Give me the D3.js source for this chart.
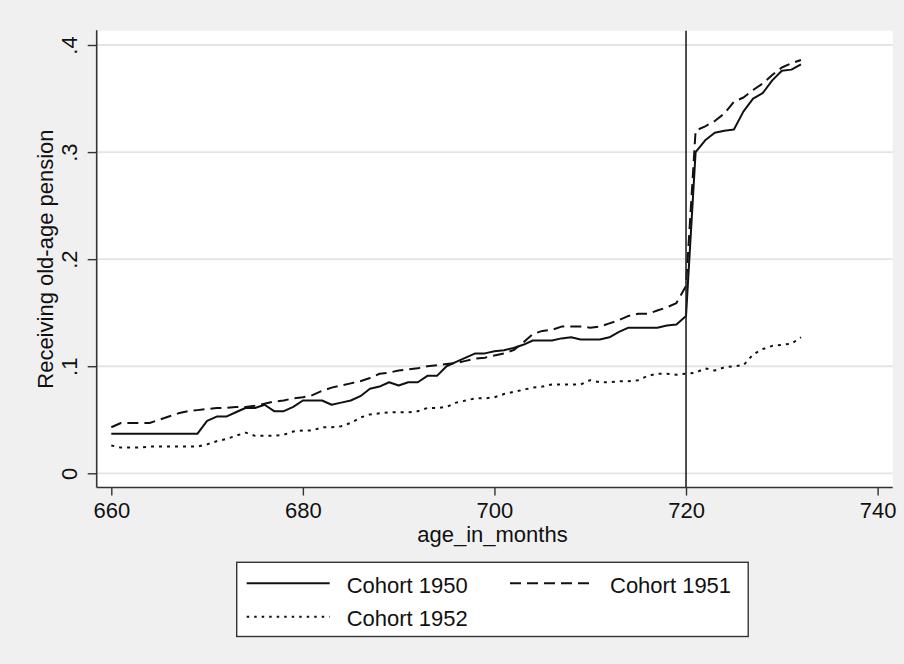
<!DOCTYPE html>
<html>
<head>
<meta charset="utf-8">
<script src="https://cdn.jsdelivr.net/npm/d3@7"></script>
<style>
  html, body { margin: 0; padding: 0; background: #f0f0f0; }
  svg { display: block; }
  text { font-family: "Liberation Sans", Arial, Helvetica, sans-serif; fill: #111; }
</style>
</head>
<body>
<svg id="chart" width="904" height="664"></svg>
<script>
// ---- data ----
const months = d3.range(660, 733);
const cohort1950 = [
  .037,.037,.037,.037,.037,.037,.037,.037,.037,.037,
  .049,.053,.053,.057,.061,.061,.064,.058,.058,.062,
  .068,.068,.068,.064,.066,.068,.072,.079,.081,.085,
  .082,.085,.085,.091,.091,.100,.104,.108,.112,.112,
  .114,.115,.117,.120,.124,.124,.124,.126,.127,.125,
  .125,.125,.127,.132,.136,.136,.136,.136,.138,.139,
  .147,.300,.311,.318,.320,.321,.338,.350,.355,.367,
  .376,.377,.382
];
const cohort1951 = [
  .043,.047,.047,.047,.047,.050,.053,.056,.058,.059,
  .060,.061,.061,.062,.062,.063,.065,.067,.068,.070,
  .071,.073,.077,.080,.082,.084,.086,.089,.093,.094,
  .096,.097,.098,.100,.101,.102,.103,.105,.107,.108,
  .110,.112,.115,.122,.130,.133,.134,.137,.137,.137,
  .136,.137,.140,.143,.147,.149,.149,.152,.155,.159,
  .175,.320,.324,.329,.336,.347,.351,.358,.364,.372,
  .379,.383,.386
];
const cohort1952 = [
  .026,.024,.024,.024,.025,.025,.025,.025,.025,.025,
  .027,.030,.032,.035,.038,.035,.035,.035,.036,.039,
  .040,.040,.043,.043,.044,.047,.052,.055,.056,.057,
  .057,.057,.058,.061,.061,.062,.066,.068,.070,.070,
  .071,.074,.076,.078,.080,.081,.083,.083,.083,.083,
  .087,.085,.085,.086,.086,.087,.091,.093,.093,.092,
  .093,.094,.098,.096,.099,.100,.101,.111,.116,.119,
  .120,.121,.127
];
const xTicks = [660, 680, 700, 720, 740];
const yTicks = [0, .1, .2, .3, .4];
const yTickLabels = ["0", ".1", ".2", ".3", ".4"];
const seriesNames = ["Cohort 1950", "Cohort 1951", "Cohort 1952"];
const cutoff = 720;
const xTitle = "age_in_months";
const yTitle = "Receiving old-age pension";

// ---- layout ----
const svg = d3.select("#chart");
const plot = { left: 96.7, right: 892.7, top: 30.7, bottom: 487.5 };
const x = d3.scaleLinear().domain([660, 740]).range([111.3, 877.6]);
const y = d3.scaleLinear().domain([0, 0.4]).range([473.3, 45]);
const fontSize = 22;

svg.append("rect").attr("width", 904).attr("height", 664).attr("fill", "#f0f0f0");
svg.append("rect")
  .attr("x", plot.left).attr("y", plot.top)
  .attr("width", plot.right - plot.left).attr("height", plot.bottom - plot.top)
  .attr("fill", "#ffffff");

// gridlines
svg.append("g").selectAll("line").data(yTicks).join("line")
  .attr("x1", plot.left).attr("x2", plot.right)
  .attr("y1", d => y(d)).attr("y2", d => y(d))
  .attr("stroke", "#e4e4e4").attr("stroke-width", 1.8);

// series
const styles = [
  { data: cohort1950, dash: null },
  { data: cohort1951, dash: "11,6" },
  { data: cohort1952, dash: "3,5" }
];
const line = d3.line().x(d => x(d[0])).y(d => y(d[1]));
styles.forEach(s => {
  svg.append("path")
    .datum(months.map((m, i) => [m, s.data[i]]))
    .attr("d", line)
    .attr("fill", "none")
    .attr("stroke", "#111")
    .attr("stroke-width", 2)
    .attr("stroke-linejoin", "round")
    .attr("stroke-dasharray", s.dash);
});

// cutoff line
svg.append("line")
  .attr("x1", x(cutoff)).attr("x2", x(cutoff))
  .attr("y1", plot.top).attr("y2", plot.bottom)
  .attr("stroke", "#222").attr("stroke-width", 1.6);

// axes
const xAxis = d3.axisBottom(x).tickValues(xTicks).tickSize(8).tickPadding(7).tickFormat(d3.format("d"));
const gx = svg.append("g").attr("transform", `translate(0,${plot.bottom})`).call(xAxis);
gx.select(".domain").remove();
gx.append("line").attr("x1", plot.left).attr("x2", plot.right).attr("y1", 0).attr("y2", 0)
  .attr("stroke", "#333").attr("stroke-width", 1.6);
gx.selectAll(".tick line").attr("stroke", "#333").attr("stroke-width", 1.4);
gx.selectAll(".tick text").attr("font-size", fontSize).attr("fill", "#111")
  .attr("font-family", '"Liberation Sans", Arial, sans-serif')
  .attr("dy", null).attr("y", 30.8);

const yAxis = d3.axisLeft(y).tickValues(yTicks).tickSize(9)
  .tickFormat((d, i) => yTickLabels[i]);
const gy = svg.append("g").attr("transform", `translate(${plot.left},0)`).call(yAxis);
gy.select(".domain").remove();
gy.append("line").attr("x1", 0).attr("x2", 0).attr("y1", plot.top - 0.5).attr("y2", plot.bottom)
  .attr("stroke", "#333").attr("stroke-width", 1.6);
gy.selectAll(".tick line").attr("stroke", "#333").attr("stroke-width", 1.4);
gy.selectAll(".tick text")
  .attr("font-size", fontSize).attr("fill", "#111")
  .attr("font-family", '"Liberation Sans", Arial, sans-serif')
  .attr("x", null).attr("dy", null)
  .attr("text-anchor", "middle")
  .attr("transform", "translate(-20,0) rotate(-90)");

// axis titles
svg.append("text")
  .attr("x", (x(660) + x(740)) / 2 - 2).attr("y", 542.3)
  .attr("text-anchor", "middle").attr("font-size", fontSize)
  .text(xTitle);
svg.append("text")
  .attr("transform", `translate(53,${(plot.top + plot.bottom) / 2}) rotate(-90)`)
  .attr("text-anchor", "middle").attr("font-size", fontSize)
  .text(yTitle);

// legend
const lg = svg.append("g");
lg.append("rect").attr("x", 236.7).attr("y", 562.3).attr("width", 511.5).attr("height", 74.2)
  .attr("fill", "#fff").attr("stroke", "#333").attr("stroke-width", 1.4);
const legendItems = [
  { name: seriesNames[0], dash: styles[0].dash, lx: 246.7, ly: 583.3, tx: 346.7, ty: 593.3 },
  { name: seriesNames[1], dash: styles[1].dash, lx: 510, ly: 583.3, tx: 610, ty: 593.3 },
  { name: seriesNames[2], dash: "2.5,5", lx: 246.7, ly: 616.7, tx: 346.7, ty: 625.5 }
];
legendItems.forEach(it => {
  lg.append("line").attr("x1", it.lx).attr("x2", it.lx + 83).attr("y1", it.ly).attr("y2", it.ly)
    .attr("stroke", "#111").attr("stroke-width", 2).attr("stroke-dasharray", it.dash);
  lg.append("text").attr("x", it.tx).attr("y", it.ty).attr("font-size", fontSize).text(it.name);
});
</script>
</body>
</html>
